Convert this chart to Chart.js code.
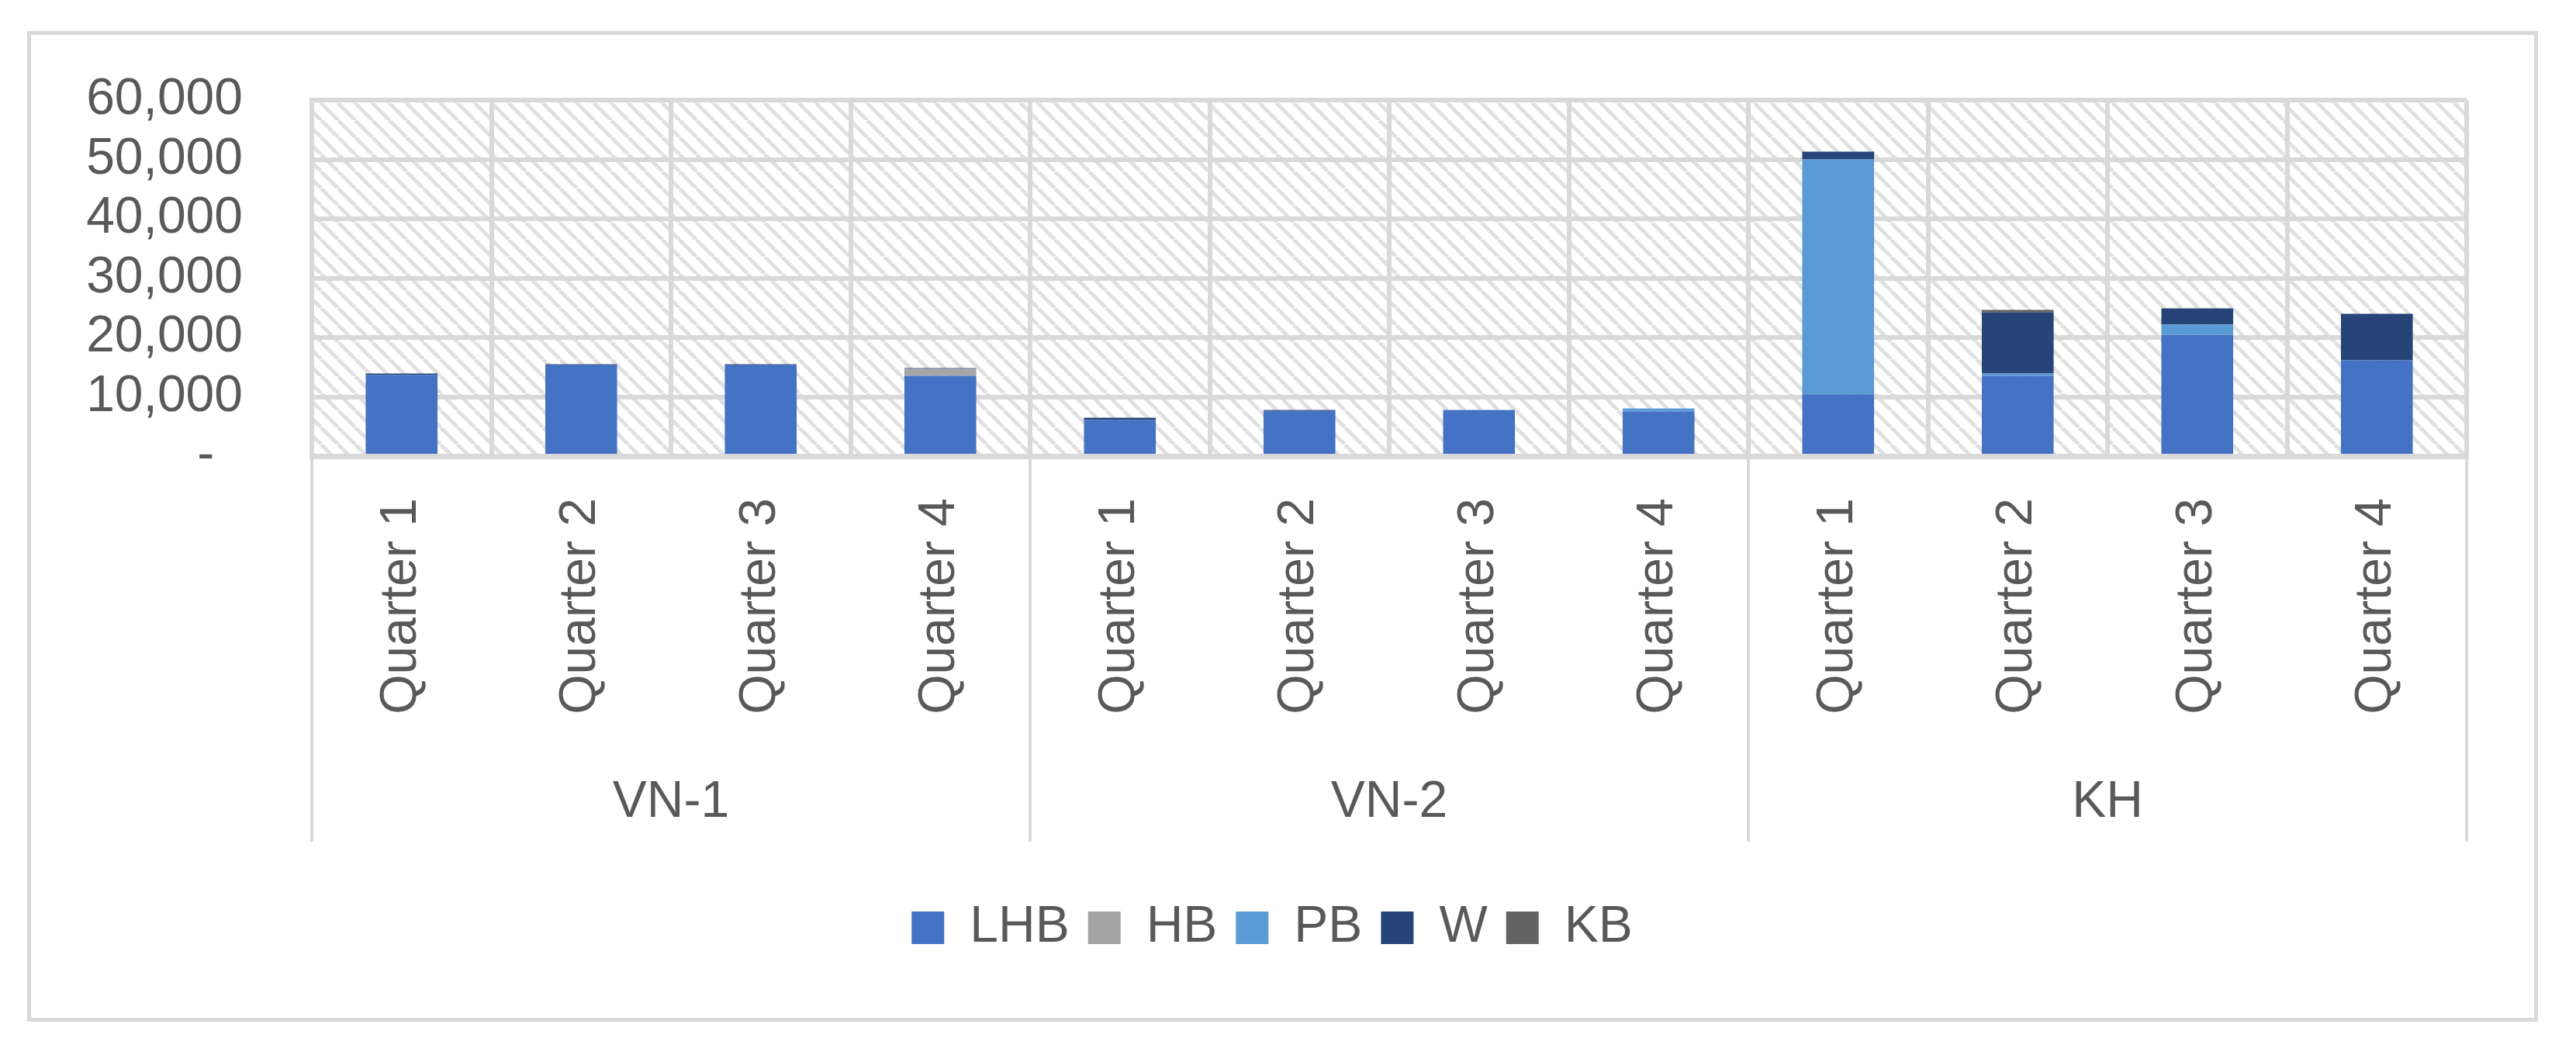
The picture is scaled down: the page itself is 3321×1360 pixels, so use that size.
<!DOCTYPE html>
<html>
<head>
<meta charset="utf-8">
<title>Quarterly stacked bars</title>
<script src="https://cdn.jsdelivr.net/npm/chart.js@4.4.1/dist/chart.umd.min.js"></script>
<style>
  html, body { margin: 0; padding: 0; background: #fff; }
  #frame {
    position: absolute; left: 35px; top: 40px;
    width: 3237px; height: 1277px;
    border: 5px solid #d9d9d9; box-sizing: border-box;
  }
  #chart { display: block; }
</style>
</head>
<body>
<div id="frame"><canvas id="chart" width="3227" height="1267"></canvas></div>
<script>
// categories (inner level) and groups (outer level)
const quarterLabels = ['Quarter 1', 'Quarter 2', 'Quarter 3', 'Quarter 4',
                       'Quarter 1', 'Quarter 2', 'Quarter 3', 'Quarter 4',
                       'Quarter 1', 'Quarter 2', 'Quarter 3', 'Quarter 4'];
const groupLabels = ['VN-1', 'VN-2', 'KH'];

// series values
const lhb = [13700, 15320, 15320, 13530, 6080, 7610, 7780, 7520, 10440, 13530, 20460, 16140];
const hb  = [0, 0, 0, 1180, 0, 0, 0, 0, 0, 0, 0, 0];
const pb  = [0, 0, 0, 0, 0, 0, 0, 520, 39560, 390, 1700, 0];
const w   = [220, 170, 170, 130, 390, 170, 0, 0, 1300, 10330, 2750, 7840];
const kb  = [0, 0, 0, 0, 0, 0, 0, 0, 0, 390, 0, 0];

const gridColor = '#d9d9d9';
const textColor = '#595959';

Chart.defaults.font.family = "'Liberation Sans', Arial, sans-serif";
Chart.defaults.font.size = 66;
Chart.defaults.color = textColor;

// light diagonal hatch behind the plot area
function makeHatch(ctx) {
  const s = 22;
  const c = document.createElement('canvas');
  c.width = s; c.height = s;
  const g = c.getContext('2d');
  g.fillStyle = '#ffffff';
  g.fillRect(0, 0, s, s);
  g.strokeStyle = '#e0e0e0';
  g.lineWidth = 5;
  [-s, 0, s].forEach(o => {
    g.beginPath();
    g.moveTo(o, 0);
    g.lineTo(o + s, s);
    g.stroke();
  });
  return ctx.createPattern(c, 'repeat');
}

const hatchPlugin = {
  id: 'hatch',
  beforeDraw(chart) {
    const {ctx, chartArea: a} = chart;
    ctx.save();
    ctx.fillStyle = makeHatch(ctx);
    ctx.fillRect(a.left, a.top, a.right - a.left, a.bottom - a.top);
    ctx.restore();
  }
};

// vertical separators between the groups, below the plot
const groupLinesPlugin = {
  id: 'groupLines',
  afterDraw(chart) {
    const {ctx, chartArea} = chart;
    const g = chart.scales.x2;
    const step = (g.right - g.left) / groupLabels.length;
    ctx.save();
    ctx.strokeStyle = gridColor;
    ctx.lineWidth = 4;
    for (let i = 0; i <= groupLabels.length; i++) {
      const x = g.left + i * step;
      ctx.beginPath();
      ctx.moveTo(x, chartArea.bottom);
      ctx.lineTo(x, g.top + 140);
      ctx.stroke();
    }
    ctx.restore();
  }
};

const ctx = document.getElementById('chart').getContext('2d');
const chart = new Chart(ctx, {
  type: 'bar',
  data: {
    labels: quarterLabels,
    datasets: [
      { label: 'LHB', data: lhb, backgroundColor: '#4472c4' },
      { label: 'HB',  data: hb,  backgroundColor: '#a5a5a5' },
      { label: 'PB',  data: pb,  backgroundColor: '#5b9bd5' },
      { label: 'W',   data: w,   backgroundColor: '#264478' },
      { label: 'KB',  data: kb,  backgroundColor: '#636363' }
    ]
  },
  options: {
    responsive: false,
    animation: false,
    datasets: {
      bar: { barPercentage: 0.4, categoryPercentage: 1.0, borderWidth: 0 }
    },
    layout: { padding: { top: 84, right: 87, bottom: 73, left: 60 } },
    plugins: {
      tooltip: { enabled: false },
      legend: {
        position: 'bottom',
        labels: {
          boxWidth: 42,
          boxHeight: 42,
          padding: 24,
          color: textColor,
          font: { size: 66 }
        }
      }
    },
    scales: {
      x: {
        stacked: true,
        weight: 0,
        offset: true,
        grid: { color: gridColor, lineWidth: 6, offset: true, drawTicks: false },
        border: { color: gridColor, width: 7 },
        ticks: { autoSkip: false, minRotation: 90, maxRotation: 90, padding: 54, color: textColor },
        afterFit(scale) { scale.height = 357; }
      },
      x2: {
        type: 'category',
        labels: groupLabels,
        position: 'bottom',
        weight: 1,
        offset: true,
        grid: { display: false, drawTicks: false },
        border: { display: false },
        ticks: { padding: 50, color: textColor },
        afterFit(scale) { scale.height = 194; }
      },
      y: {
        stacked: true,
        min: 0,
        max: 60000,
        grid: { color: gridColor, lineWidth: 6, drawTicks: false },
        border: { color: gridColor, width: 6 },
        ticks: {
          stepSize: 10000,
          autoSkip: false,
          padding: 89,
          color: textColor,
          callback: v => v === 0 ? '-  ' : v.toLocaleString('en-US')
        },
        afterFit(scale) {
          scale.width = 302;
          // the tick padding should not push the plot down
          scale.paddingTop = 0;
          scale.paddingBottom = 0;
        }
      }
    }
  },
  plugins: [hatchPlugin, groupLinesPlugin]
});
</script>
</body>
</html>
